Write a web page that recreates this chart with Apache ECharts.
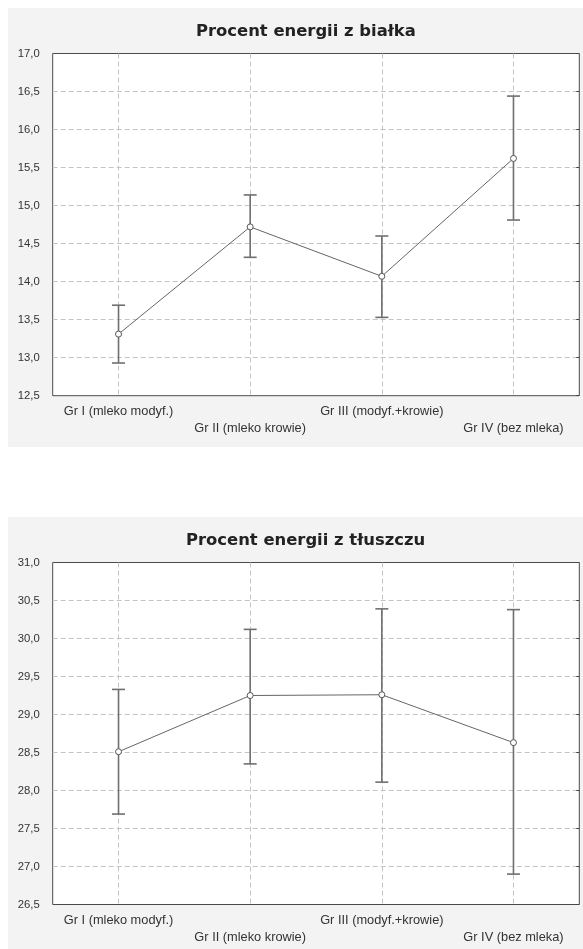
<!DOCTYPE html>
<html>
<head>
<meta charset="utf-8">
<script src="https://cdn.jsdelivr.net/npm/echarts@6/dist/echarts.min.js"></script>
<style>
html,body{margin:0;padding:0;background:#fff;}
#c{width:583px;height:949px;}
</style>
</head>
<body>
<div id="c"></div>
<script>
const categories = ['Gr I (mleko modyf.)', 'Gr II (mleko krowie)', 'Gr III (modyf.+krowie)', 'Gr IV (bez mleka)'];

const title1 = 'Procent energii z białka';
const mean1  = [13.31, 14.72, 14.07, 15.62];
const lower1 = [12.93, 14.32, 13.53, 14.81];
const upper1 = [13.69, 15.14, 14.60, 16.44];
const yMin1 = 12.5, yMax1 = 17.0;

const title2 = 'Procent energii z tłuszczu';
const mean2  = [28.51, 29.25, 29.26, 28.63];
const lower2 = [27.69, 28.35, 28.11, 26.90];
const upper2 = [29.33, 30.12, 30.39, 30.38];
const yMin2 = 26.5, yMax2 = 31.0;

const yStep = 0.5;

const FONT = '"Liberation Sans", Arial, sans-serif';
const TFONT = '"DejaVu Sans", sans-serif';
const chart = echarts.init(document.getElementById('c'), null, {renderer: 'canvas'});

function errData(lo, hi) { return lo.map((v, i) => [i, v, hi[i]]); }

function renderErr(params, api) {
  const x = api.value(0);
  const p1 = api.coord([x, api.value(1)]);
  const p2 = api.coord([x, api.value(2)]);
  const hw = 6.5;
  const st = {stroke: '#6f6f6f', lineWidth: 1.6};
  return {
    type: 'group',
    children: [
      {type: 'line', shape: {x1: p1[0], y1: p1[1], x2: p2[0], y2: p2[1]}, style: st},
      {type: 'line', shape: {x1: p1[0]-hw, y1: p1[1], x2: p1[0]+hw, y2: p1[1]}, style: st},
      {type: 'line', shape: {x1: p2[0]-hw, y1: p2[1], x2: p2[0]+hw, y2: p2[1]}, style: st}
    ]
  };
}

const yLabelFmt = v => v.toFixed(1).replace('.', ',');
const dashStyle = {color: '#c4c4c4', type: [5, 3], width: 1};

function xAxisDef(gi) {
  return {
    type: 'category', gridIndex: gi, data: categories, boundaryGap: true,
    axisLine: {show: false}, axisTick: {show: false},
    splitLine: {show: true, alignWithLabel: true, lineStyle: dashStyle},
    axisLabel: {
      interval: 0, margin: 7, color: '#333', fontSize: 12.8, fontFamily: FONT,
      lineHeight: 17, verticalAlign: 'top',
      formatter: (v, i) => (i % 2 === 1 ? '\n' + v : v)
    }
  };
}
function yAxisDef(gi, mn, mx) {
  return {
    type: 'value', gridIndex: gi, min: mn, max: mx, interval: yStep,
    axisLine: {show: false}, axisTick: {show: false},
    splitLine: {show: true, showMinLine: false, showMaxLine: false, lineStyle: dashStyle},
    axisLabel: {margin: 13, color: '#333', fontSize: 11.3, fontFamily: FONT, formatter: yLabelFmt}
  };
}
function yRightDef(gi, mn, mx) {
  return {
    type: 'value', gridIndex: gi, min: mn, max: mx, interval: yStep, position: 'right',
    axisLine: {show: false}, splitLine: {show: false}, axisLabel: {show: false},
    axisTick: {show: true, inside: true, length: 3, lineStyle: {color: '#444'}}
  };
}

const gridBase = {left: 52.7, width: 526.6, show: true, borderColor: '#4a4a4a', borderWidth: 1, backgroundColor: '#ffffff'};
const titleStyle = {fontSize: 16.4, fontWeight: 'bold', color: '#222', fontFamily: TFONT};

chart.setOption({
  animation: false,
  backgroundColor: '#ffffff',
  graphic: [
    {type: 'rect', z: -10, shape: {x: 8, y: 8, width: 575, height: 439}, style: {fill: '#f3f3f3'}},
    {type: 'rect', z: -10, shape: {x: 8, y: 517, width: 575, height: 432}, style: {fill: '#f3f3f3'}}
  ],
  title: [
    {text: title1, left: 191, top: 19, textStyle: titleStyle},
    {text: title2, left: 181, top: 528, textStyle: titleStyle}
  ],
  grid: [
    Object.assign({top: 53.5, height: 342.2}, gridBase),
    Object.assign({top: 562.5, height: 342}, gridBase)
  ],
  xAxis: [xAxisDef(0), xAxisDef(1)],
  yAxis: [yAxisDef(0, yMin1, yMax1), yAxisDef(1, yMin2, yMax2), yRightDef(0, yMin1, yMax1), yRightDef(1, yMin2, yMax2)],
  series: [
    {type: 'custom', xAxisIndex: 0, yAxisIndex: 0, renderItem: renderErr, data: errData(lower1, upper1), encode: {x: 0, y: [1, 2]}, z: 2},
    {type: 'line', xAxisIndex: 0, yAxisIndex: 0, data: mean1, symbol: 'circle', symbolSize: 6,
     lineStyle: {color: '#666', width: 1}, itemStyle: {color: '#fff', borderColor: '#555', borderWidth: 1}, z: 3},
    {type: 'custom', xAxisIndex: 1, yAxisIndex: 1, renderItem: renderErr, data: errData(lower2, upper2), encode: {x: 0, y: [1, 2]}, z: 2},
    {type: 'line', xAxisIndex: 1, yAxisIndex: 1, data: mean2, symbol: 'circle', symbolSize: 6,
     lineStyle: {color: '#666', width: 1}, itemStyle: {color: '#fff', borderColor: '#555', borderWidth: 1}, z: 3}
  ]
});
</script>
</body>
</html>
